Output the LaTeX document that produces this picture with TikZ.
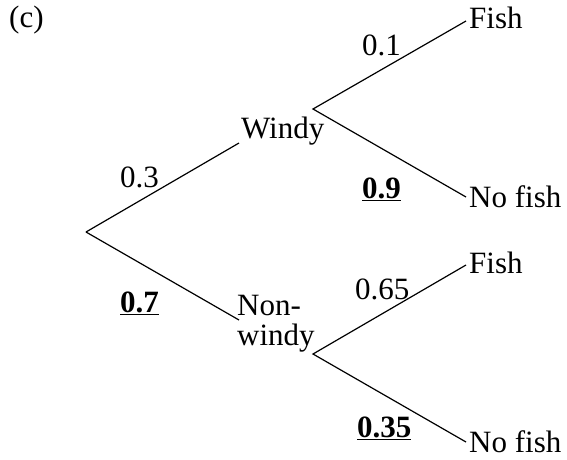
\documentclass[tikz,border=0pt]{standalone}
\usepackage{fontspec}
\setmainfont{Liberation Serif}
\begin{document}
\begin{tikzpicture}[x=1pt,y=-1pt,
  lbl/.style={anchor=base west, inner sep=0pt, font=\fontsize{31}{30}\selectfont},
  branch/.style={draw=black, line width=1.2pt}]
\useasboundingbox (0,0) rectangle (567,459);
% branch points
\coordinate (R)  at (86,232);
\coordinate (W1) at (239,143);
\coordinate (W2) at (313,109);
\coordinate (F1) at (466,21);
\coordinate (N1) at (466,197);
\coordinate (L1) at (239,320);
\coordinate (L2) at (313,354);
\coordinate (F2) at (466,265);
\coordinate (N2) at (466,442);
% labels
\node[lbl] (c)     at (9,27)    {(c)};
\node[lbl] (windy) at (241,138) {Windy};
\node[lbl] (non)   at (237,315) {Non-};
\node[lbl] (nwin)  at (237,345) {windy};
\node[lbl] (fish1) at (469,28)  {Fish};
\node[lbl] (nof1)  at (469,207) {No fish};
\node[lbl] (fish2) at (469,273) {Fish};
\node[lbl] (nof2)  at (469,452) {No fish};
\node[lbl] (p03)   at (120,187) {0.3};
\node[lbl] (p07)   at (120,312) {\underline{\textbf{0.7}}};
\node[lbl] (p01)   at (362,55)  {0.1};
\node[lbl] (p09)   at (362,198) {\underline{\textbf{0.9}}};
\node[lbl] (p065)  at (355,299) {0.65};
\node[lbl] (p035)  at (357,437) {\underline{\textbf{0.35}}};
% connectors
\draw[branch] (R) -- (W1);
\draw[branch] (R) -- (L1);
\draw[branch] (F1) -- (W2) -- (N1);
\draw[branch] (F2) -- (L2) -- (N2);
\end{tikzpicture}
\end{document}
